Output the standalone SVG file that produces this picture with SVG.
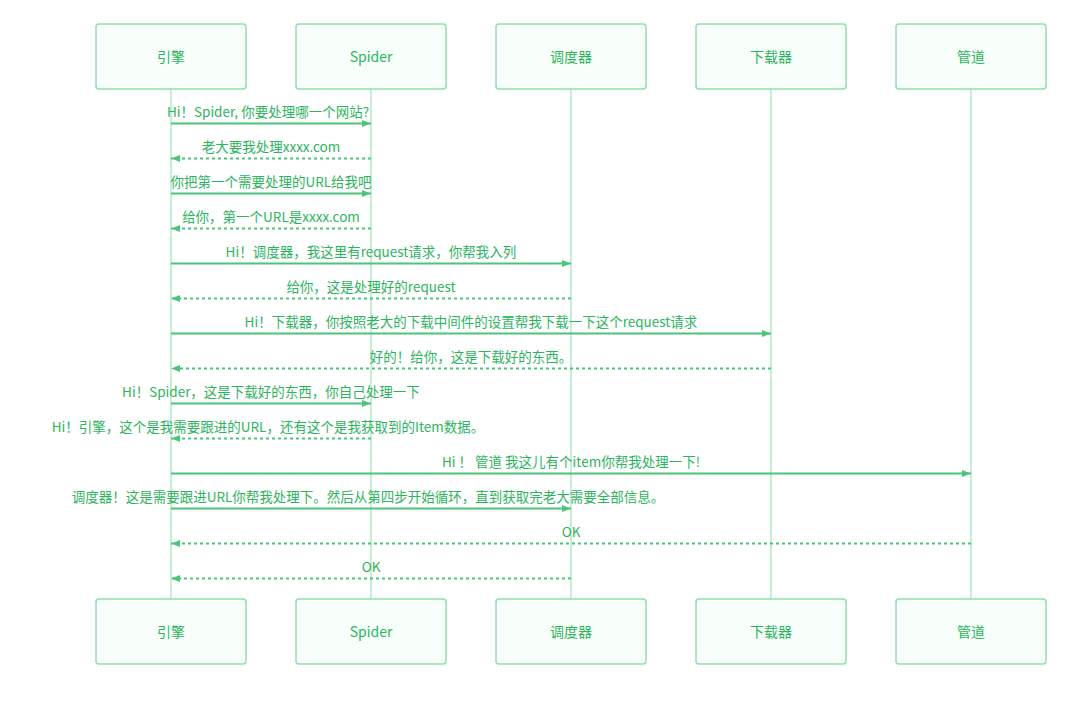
<svg xmlns="http://www.w3.org/2000/svg" width="1089" height="714" viewBox="0 0 1089 714">
<style>
.box{fill:#f8fffa;stroke:#93deae;stroke-width:1.5}
.life{stroke:#c6efd5;stroke-width:2}
.lbl{font-family:"Noto Sans CJK SC","Microsoft YaHei",sans-serif;font-size:14px;fill:#2db45e;text-anchor:middle}
.msg{font-family:"Noto Sans CJK SC","Microsoft YaHei",sans-serif;font-size:13.5px;fill:#2db45e;text-anchor:middle}
.solid{stroke:#4cc57b;stroke-width:2;fill:none;marker-end:url(#ah)}
.dash{stroke:#4cc57b;stroke-width:2;fill:none;stroke-dasharray:3,3;marker-end:url(#ah)}
</style>
<defs>
<marker id="ah" markerUnits="userSpaceOnUse" markerWidth="9" markerHeight="7" refX="9" refY="3.5" orient="auto">
<path d="M0,0 L9,3.5 L0,7 z" fill="#4cc57b"/>
</marker>
</defs>
<rect width="1089" height="714" fill="#ffffff"/>
<g id="lifelines">
<line class="life" x1="171" y1="89" x2="171" y2="599"/>
<line class="life" x1="371" y1="89" x2="371" y2="599"/>
<line class="life" x1="571" y1="89" x2="571" y2="599"/>
<line class="life" x1="771" y1="89" x2="771" y2="599"/>
<line class="life" x1="971" y1="89" x2="971" y2="599"/>
</g>
<g id="engine-top"><rect class="box" x="96" y="24" width="150" height="65" rx="3"/><text class="lbl" x="171" y="61.5">引擎</text></g>
<g id="spider-top"><rect class="box" x="296" y="24" width="150" height="65" rx="3"/><text class="lbl" x="371" y="61.5">Spider</text></g>
<g id="scheduler-top"><rect class="box" x="496" y="24" width="150" height="65" rx="3"/><text class="lbl" x="571" y="61.5">调度器</text></g>
<g id="downloader-top"><rect class="box" x="696" y="24" width="150" height="65" rx="3"/><text class="lbl" x="771" y="61.5">下载器</text></g>
<g id="pipeline-top"><rect class="box" x="896" y="24" width="150" height="65" rx="3"/><text class="lbl" x="971" y="61.5">管道</text></g>
<g id="engine-bottom"><rect class="box" x="96" y="599" width="150" height="65" rx="3"/><text class="lbl" x="171" y="636.5">引擎</text></g>
<g id="spider-bottom"><rect class="box" x="296" y="599" width="150" height="65" rx="3"/><text class="lbl" x="371" y="636.5">Spider</text></g>
<g id="scheduler-bottom"><rect class="box" x="496" y="599" width="150" height="65" rx="3"/><text class="lbl" x="571" y="636.5">调度器</text></g>
<g id="downloader-bottom"><rect class="box" x="696" y="599" width="150" height="65" rx="3"/><text class="lbl" x="771" y="636.5">下载器</text></g>
<g id="pipeline-bottom"><rect class="box" x="896" y="599" width="150" height="65" rx="3"/><text class="lbl" x="971" y="636.5">管道</text></g>
<g id="connectors">
<line class="solid" x1="171" y1="123.5" x2="371" y2="123.5"/>
<line class="dash" x1="371" y1="158.5" x2="171" y2="158.5"/>
<line class="solid" x1="171" y1="193.5" x2="371" y2="193.5"/>
<line class="dash" x1="371" y1="228.5" x2="171" y2="228.5"/>
<line class="solid" x1="171" y1="263.5" x2="571" y2="263.5"/>
<line class="dash" x1="571" y1="298.5" x2="171" y2="298.5"/>
<line class="solid" x1="171" y1="333.5" x2="771" y2="333.5"/>
<line class="dash" x1="771" y1="368.5" x2="171" y2="368.5"/>
<line class="solid" x1="171" y1="403.5" x2="371" y2="403.5"/>
<line class="dash" x1="371" y1="438.5" x2="171" y2="438.5"/>
<line class="solid" x1="171" y1="473.5" x2="971" y2="473.5"/>
<line class="solid" x1="171" y1="508.5" x2="571" y2="508.5"/>
<line class="dash" x1="971" y1="543.5" x2="171" y2="543.5"/>
<line class="dash" x1="571" y1="578.5" x2="171" y2="578.5"/>
</g>
<g id="labels">
<text class="msg" x="268" y="117">Hi！Spider, 你要处理哪一个网站?</text>
<text class="msg" x="271" y="152">老大要我处理xxxx.com</text>
<text class="msg" x="271" y="187">你把第一个需要处理的URL给我吧</text>
<text class="msg" x="271" y="222">给你，第一个URL是xxxx.com</text>
<text class="msg" x="371" y="257">Hi！调度器，我这里有request请求，你帮我入列</text>
<text class="msg" x="371" y="292">给你，这是处理好的request</text>
<text class="msg" x="471" y="327">Hi！下载器，你按照老大的下载中间件的设置帮我下载一下这个request请求</text>
<text class="msg" x="471" y="362">好的！给你，这是下载好的东西。</text>
<text class="msg" x="271" y="397">Hi！Spider，这是下载好的东西，你自己处理一下</text>
<text class="msg" x="268" y="432">Hi！引擎，这个是我需要跟进的URL，还有这个是我获取到的Item数据。</text>
<text class="msg" x="571" y="467">Hi ！ 管道 我这儿有个item你帮我处理一下!</text>
<text class="msg" x="368" y="502">调度器！这是需要跟进URL你帮我处理下。然后从第四步开始循环，直到获取完老大需要全部信息。</text>
<text class="msg" x="571" y="537">OK</text>
<text class="msg" x="371" y="572">OK</text>
</g>
</svg>
